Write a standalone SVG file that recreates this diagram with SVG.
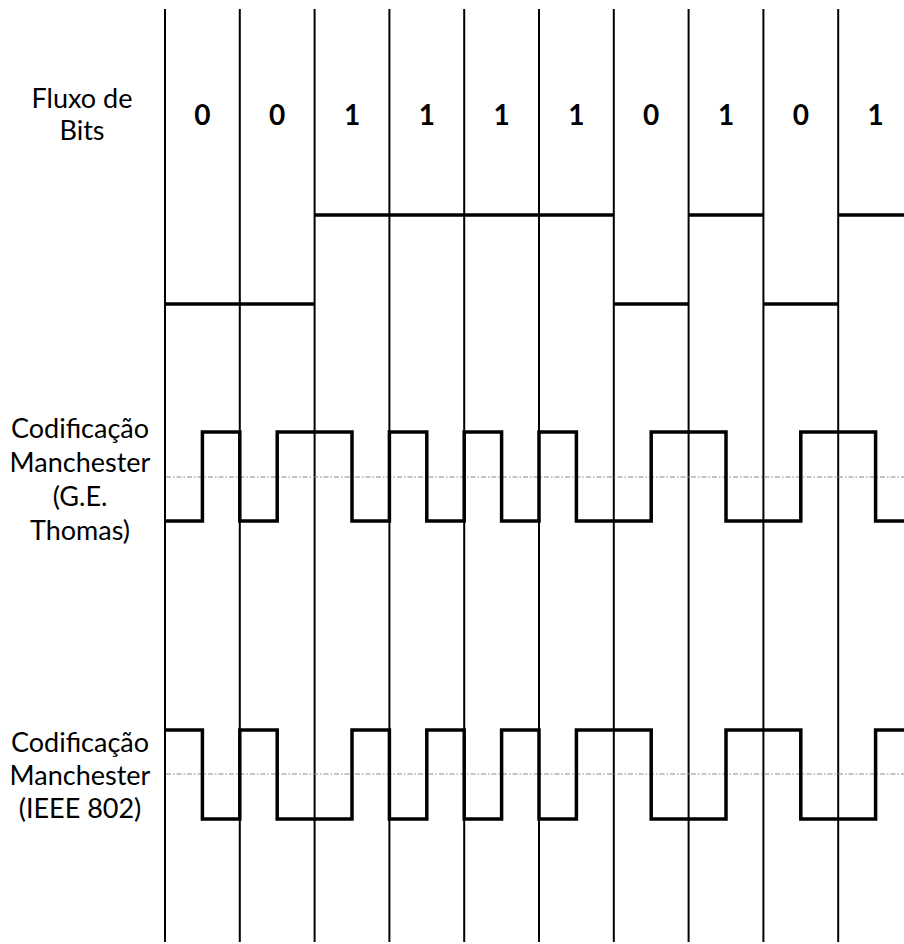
<svg xmlns="http://www.w3.org/2000/svg" width="904" height="944" viewBox="0 0 904 944">
<style>
.grid{stroke:#000;stroke-width:2;fill:none}
.sig{stroke:#000;stroke-width:3.5;fill:none;stroke-linejoin:miter;stroke-linecap:square}
.nrz{stroke:#000;stroke-width:3.5;fill:none;stroke-linecap:butt}
.mid{stroke:#8a8a8a;stroke-width:1;stroke-dasharray:5 2 1.5 2;fill:none}
.lbl{font-family:Lato,"Liberation Sans",sans-serif;font-size:27px;fill:#000;text-anchor:middle}
.bit{font-family:Lato,"Liberation Sans",sans-serif;font-size:28px;font-weight:bold;fill:#000;text-anchor:middle}
</style>
<rect width="904" height="944" fill="#fff"/>
<g id="grid">
<line class="grid" x1="165" y1="9" x2="165" y2="942"/>
<line class="grid" x1="239.8" y1="9" x2="239.8" y2="942"/>
<line class="grid" x1="314.6" y1="9" x2="314.6" y2="942"/>
<line class="grid" x1="389.4" y1="9" x2="389.4" y2="942"/>
<line class="grid" x1="464.2" y1="9" x2="464.2" y2="942"/>
<line class="grid" x1="539" y1="9" x2="539" y2="942"/>
<line class="grid" x1="613.8" y1="9" x2="613.8" y2="942"/>
<line class="grid" x1="688.6" y1="9" x2="688.6" y2="942"/>
<line class="grid" x1="763.4" y1="9" x2="763.4" y2="942"/>
<line class="grid" x1="838.2" y1="9" x2="838.2" y2="942"/>
</g>
<g id="labels">
<text class="lbl" x="82" y="108">Fluxo de</text>
<text class="lbl" x="82" y="140">Bits</text>
<text class="lbl" x="80" y="438">Codificação</text>
<text class="lbl" x="80" y="472">Manchester</text>
<text class="lbl" x="80" y="506">(G.E.</text>
<text class="lbl" x="80" y="540">Thomas)</text>
<text class="lbl" x="80" y="752">Codificação</text>
<text class="lbl" x="80" y="785">Manchester</text>
<text class="lbl" x="80" y="818">(IEEE 802)</text>
</g>
<g id="bits">
<text class="bit" x="202.4" y="125">0</text>
<text class="bit" x="277.2" y="125">0</text>
<text class="bit" x="352" y="125">1</text>
<text class="bit" x="426.8" y="125">1</text>
<text class="bit" x="501.6" y="125">1</text>
<text class="bit" x="576.4" y="125">1</text>
<text class="bit" x="651.2" y="125">0</text>
<text class="bit" x="726" y="125">1</text>
<text class="bit" x="800.8" y="125">0</text>
<text class="bit" x="875.6" y="125">1</text>
</g>
<g id="nrz">
<line class="nrz" x1="166" y1="304" x2="314.6" y2="304"/>
<line class="nrz" x1="314.6" y1="215" x2="613.8" y2="215"/>
<line class="nrz" x1="613.8" y1="304" x2="688.6" y2="304"/>
<line class="nrz" x1="688.6" y1="215" x2="763.4" y2="215"/>
<line class="nrz" x1="763.4" y1="304" x2="838.2" y2="304"/>
<line class="nrz" x1="838.2" y1="215" x2="904" y2="215"/>
</g>
<g id="midlines">
<line class="mid" x1="166" y1="477" x2="904" y2="477"/>
<line class="mid" x1="166" y1="774" x2="904" y2="774"/>
</g>
<g id="thomas">
<path class="sig" d="M166,521 H202.4 V432 H239.8 V521 H277.2 V432 H352 V521 H389.4 V432 H426.8 V521 H464.2 V432 H501.6 V521 H539 V432 H576.4 V521 H651.2 V432 H726 V521 H800.8 V432 H875.6 V521 H906"/>
</g>
<g id="ieee">
<path class="sig" d="M166,730 H202.4 V819 H239.8 V730 H277.2 V819 H352 V730 H389.4 V819 H426.8 V730 H464.2 V819 H501.6 V730 H539 V819 H576.4 V730 H651.2 V819 H726 V730 H800.8 V819 H875.6 V730 H906"/>
</g>
</svg>
